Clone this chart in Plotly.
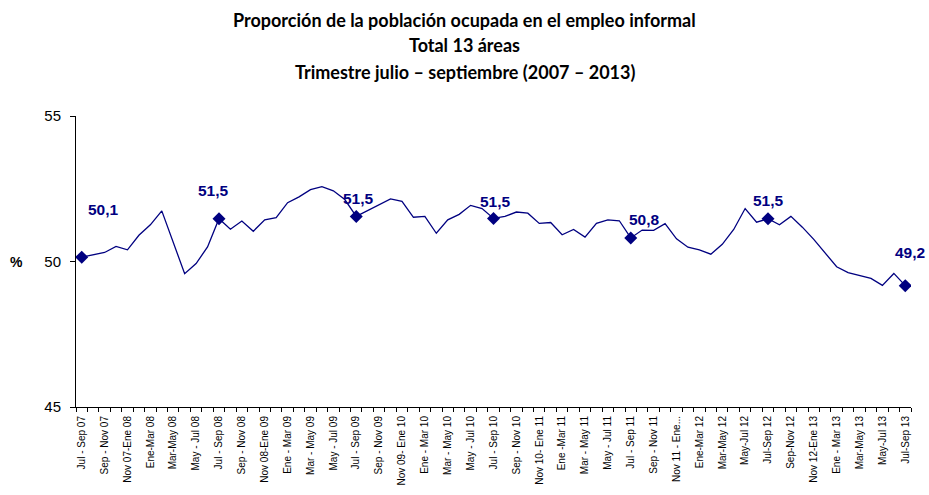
import plotly.graph_objects as go

# ---------------- data ----------------
tick_labels = [
    "Jul - Sep 07", "Sep - Nov 07", "Nov 07-Ene 08", "Ene-Mar 08", "Mar-May 08",
    "May - Jul 08", "Jul - Sep 08", "Sep - Nov 08", "Nov 08-Ene 09", "Ene - Mar 09",
    "Mar - May 09", "May - Jul 09", "Jul - Sep 09", "Sep - Nov 09", "Nov 09- Ene 10",
    "Ene - Mar 10", "Mar - May 10", "May - Jul 10", "Jul - Sep 10", "Sep - Nov 10",
    "Nov 10- Ene 11", "Ene -Mar 11", "Mar - May 11", "May - Jul 11", "Jul - Sep 11",
    "Sep - Nov 11", "Nov 11 - Ene...", "Ene-Mar 12", "Mar-May 12", "May-Jul 12",
    "Jul-Sep 12", "Sep-Nov 12", "Nov 12-Ene 13", "Ene - Mar 13", "Mar-May 13",
    "May-Jul 13", "Jul-Sep 13",
]

values = [
    50.15, 50.24, 50.31, 50.52, 50.40, 50.90, 51.26, 51.74, 50.66, 49.58,
    49.93, 50.50, 51.47, 51.11, 51.39, 51.04, 51.43, 51.51, 52.02, 52.22,
    52.47, 52.57, 52.43, 52.13, 51.55, 51.75, 51.95, 52.15, 52.07, 51.52,
    51.55, 50.97, 51.43, 51.62, 51.93, 51.82, 51.48, 51.55, 51.70, 51.66,
    51.31, 51.34, 50.92, 51.10, 50.84, 51.31, 51.43, 51.40, 50.81, 51.08,
    51.07, 51.30, 50.78, 50.49, 50.40, 50.25, 50.59, 51.10, 51.82, 51.35,
    51.47, 51.26, 51.55, 51.18, 50.76, 50.30, 49.82, 49.62, 49.53, 49.42,
    49.18, 49.59, 49.17,
]

marked_idx = [0, 12, 24, 36, 48, 60, 72]
marked_text = ["50,1", "51,5", "51,5", "51,5", "50,8", "51,5", "49,2"]
label_dx = [22, -5, 2, 2, 14, 0, 5]
label_dy = [48, 28, 18, 17, 18, 18, 33]

title_lines = [
    "Proporción de la población ocupada en el empleo informal",
    "Total 13 áreas",
    "Trimestre julio – septiembre (2007 – 2013)",
]

# ---------------- figure ----------------
NAVY = "#000080"
x = list(range(len(values)))
W, H = 929, 495
ML, MR, MT, MB = 76, 18, 116, 88
plot_h = H - MT - MB
plot_w = W - ML - MR

fig = go.Figure()
fig.add_trace(go.Scatter(
    x=x, y=values, mode="lines",
    line=dict(color=NAVY, width=1.3),
    hoverinfo="skip", showlegend=False,
))
fig.add_trace(go.Scatter(
    x=[x[i] for i in marked_idx], y=[values[i] for i in marked_idx],
    mode="markers",
    marker=dict(symbol="diamond", size=10, color=NAVY),
    showlegend=False,
))

annotations = []
for i, t, dx, dy in zip(marked_idx, marked_text, label_dx, label_dy):
    annotations.append(dict(
        x=x[i], y=values[i], xref="x", yref="y", text="<b>%s</b>" % t,
        showarrow=False, xshift=dx, yshift=dy,
        font=dict(family="Liberation Sans, Arial", size=15.5, color=NAVY),
    ))

title_y_px = [20, 45, 72]
for line, ypx in zip(title_lines, title_y_px):
    annotations.append(dict(
        x=(W / 2 - ML) / plot_w, xref="paper", y=(H - MB - ypx) / plot_h, yref="paper",
        xanchor="center", yanchor="middle", showarrow=False,
        text="<b>%s</b>" % line,
        font=dict(family="Lato, Open Sans, sans-serif", size=18, color="black"),
    ))

annotations.append(dict(
    x=(16 - ML) / plot_w, xref="paper", y=50, yref="y", showarrow=False,
    text="<b>%</b>", xanchor="center", yanchor="middle",
    font=dict(family="Liberation Sans, Arial", size=14, color="black"),
))

fig.update_layout(
    width=W, height=H,
    margin=dict(l=ML, r=MR, t=MT, b=MB, pad=0),
    paper_bgcolor="white", plot_bgcolor="white",
    annotations=annotations,
    showlegend=False,
)

fig.update_xaxes(
    range=[-0.5, len(values) - 0.5],
    tickmode="array",
    tickvals=x[::2],
    ticktext=tick_labels,
    tickangle=-90,
    ticks="",
    ticklabelstandoff=4,
    minor=dict(ticks="outside", tickvals=[k - 0.5 for k in range(len(values) + 1)],
               ticklen=4, tickcolor="black", tickwidth=1),
    showline=True, linecolor="black", linewidth=1,
    showgrid=False, zeroline=False, automargin=False,
    tickfont=dict(family="Liberation Sans, Arial", size=10, color="black"),
)
fig.update_yaxes(
    range=[45, 55],
    tickvals=[45, 50, 55],
    ticks="outside", ticklen=5, tickcolor="black",
    ticklabelstandoff=6,
    showline=True, linecolor="black", linewidth=1,
    showgrid=False, zeroline=False, automargin=False,
    tickfont=dict(family="Liberation Sans, Arial", size=15, color="black"),
)

fig.write_html(
    "out.html",
    config={"displayModeBar": False},
    post_script="document.body.style.margin='0';document.body.style.overflow='hidden';",
)
